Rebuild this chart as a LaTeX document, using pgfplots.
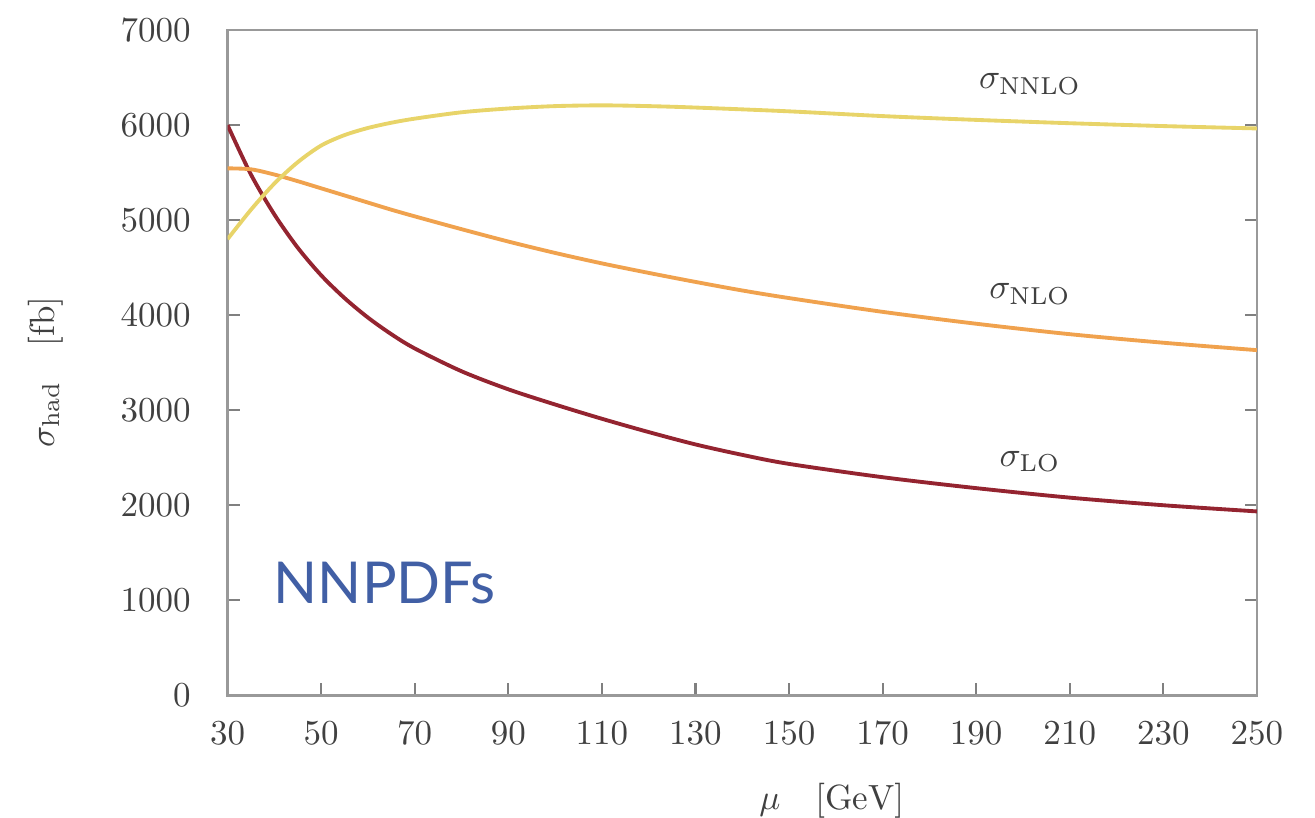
\documentclass[border=0pt]{standalone}
\usepackage{pgfplots}
\pgfplotsset{compat=1.18}
\usepackage{fontspec}
\newfontfamily\gill{Lato}
\definecolor{loc}{RGB}{148,36,48}
\definecolor{nloc}{RGB}{240,162,78}
\definecolor{nnloc}{RGB}{232,212,105}
\definecolor{nnpdf}{RGB}{65,95,165}
\begin{document}
\begin{tikzpicture}
\begin{axis}[
  scale only axis,
  width=294pt, height=190pt,
  xmin=30, xmax=250, ymin=0, ymax=7000,
  xtick={30,50,...,250}, ytick={0,1000,...,7000},
  xtick pos=bottom, ytick pos=both,
  tick align=inside,
  major tick length=3.5pt,
  axis line style={draw=black!40, line width=0.8pt},
  tick style={draw=black!50, line width=0.6pt},
  ticklabel style={text=black!75},
  yticklabel style={xshift=-7pt},
  xticklabel style={yshift=-4pt},
  scaled y ticks=false,
  /pgf/number format/1000 sep={},
  xlabel={$\mu\quad[\mathrm{GeV}]$},
  ylabel={$\sigma_{\mathrm{had}}\quad[\mathrm{fb}]$},
  xlabel style={at={(axis description cs:0.587,-0.158)}, anchor=center, text=black!75},
  ylabel style={at={(axis description cs:-0.177,0.486)}, anchor=center, text=black!75},
  every axis plot/.append style={line width=1.1pt, smooth, no markers},
  clip=true,
]
% LO
\addplot[color=loc] coordinates {
(30,6000) (35,5480) (40,5060) (45,4710) (50,4420) (55,4180) (60,3975) (65,3800)
(70,3650) (80,3410) (90,3220) (100,3060) (110,2910) (120,2770) (130,2640)
(140,2530) (150,2435) (170,2295) (190,2180) (210,2080) (230,2000) (250,1935)};
% NLO
\addplot[color=nloc] coordinates {
(30,5545) (35,5535) (40,5480) (45,5410) (50,5335) (55,5260) (60,5185) (65,5110)
(70,5040) (80,4905) (90,4775) (100,4655) (110,4545) (120,4445) (130,4350)
(140,4260) (150,4180) (170,4035) (190,3910) (210,3800) (230,3710) (250,3632)};
% NNLO
\addplot[color=nnloc] coordinates {
(30,4800) (35,5110) (40,5385) (45,5610) (50,5785) (55,5895) (60,5970) (65,6025)
(70,6068) (80,6135) (90,6175) (100,6200) (110,6208) (120,6200) (130,6185)
(150,6145) (170,6095) (190,6055) (210,6020) (230,5990) (250,5965)};
\node[text=black!75] at (axis cs:201.5,6430) {$\sigma_{\mathrm{NNLO}}$};
\node[text=black!75] at (axis cs:201.5,4220) {$\sigma_{\mathrm{NLO}}$};
\node[text=black!75] at (axis cs:201.5,2460) {$\sigma_{\mathrm{LO}}$};
\node[text=nnpdf, font=\gill\fontsize{16.5}{16.5}\selectfont] at (axis cs:63.6,1180) {NNPDFs};
\end{axis}
\pgfresetboundingbox
\path[use as bounding box] ([xshift=-65pt,yshift=-35pt]current axis.south west) rectangle ([xshift=16.6pt,yshift=8.6pt]current axis.north east);
\end{tikzpicture}
\end{document}
